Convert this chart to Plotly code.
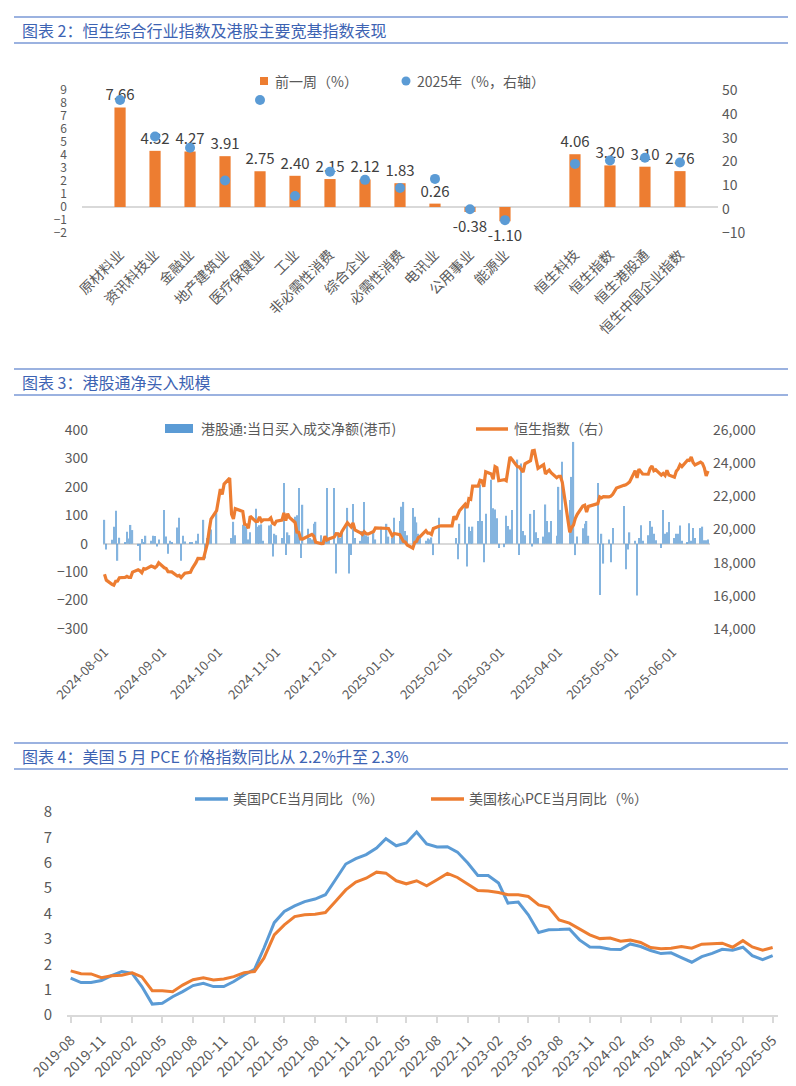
import plotly.graph_objects as go

W, H = 796, 1086

# ---- chart 1: sector / index performance ----
sectors = ["原材料业", "资讯科技业", "金融业", "地产建筑业", "医疗保健业", "工业",
           "非必需性消费", "综合企业", "必需性消费", "电讯业", "公用事业", "能源业",
           " ", "恒生科技", "恒生指数", "恒生港股通", "恒生中国企业指数"]
week_chg = [7.66, 4.32, 4.27, 3.91, 2.75, 2.40, 2.15, 2.12, 1.83, 0.26, -0.38, -1.10,
            None, 4.06, 3.20, 3.10, 2.76]
ytd_chg = [45.8, 30.5, 25.8, 12.0, 45.8, 5.5, 15.7, 12.3, 8.9, 12.7, 0.0, -4.6,
           None, 19.0, 20.4, 21.6, 19.6]

# ---- chart 2: southbound net buying vs HSI ----
trade_dates = (
    ["2024-08-%02d" % d for d in (1, 2, 5, 6, 7, 8, 9, 12, 13, 14, 15, 16, 19, 20, 21, 22, 23, 26, 27, 28, 29, 30)]
    + ["2024-09-%02d" % d for d in (2, 3, 4, 5, 6, 9, 10, 11, 12, 13, 16, 17, 19, 20, 23, 24, 25, 26, 27, 30)]
    + ["2024-10-%02d" % d for d in (2, 3, 4, 7, 8, 9, 10, 14, 15, 16, 17, 18, 21, 22, 23, 24, 25, 28, 29, 30, 31)]
    + ["2024-11-%02d" % d for d in (1, 4, 5, 6, 7, 8, 11, 12, 13, 14, 15, 18, 19, 20, 21, 22, 25, 26, 27, 28, 29)]
    + ["2024-12-%02d" % d for d in (2, 3, 4, 5, 6, 9, 10, 11, 12, 13, 16, 17, 18, 19, 20, 23, 24, 27, 30, 31)]
    + ["2025-01-%02d" % d for d in (2, 3, 6, 7, 8, 9, 10, 13, 14, 15, 16, 17, 20, 21, 22, 23, 24, 27, 28)]
    + ["2025-02-%02d" % d for d in (3, 4, 5, 6, 7, 10, 11, 12, 13, 14, 17, 18, 19, 20, 21, 24, 25, 26, 27, 28)]
    + ["2025-03-%02d" % d for d in (3, 4, 5, 6, 7, 10, 11, 12, 13, 14, 17, 18, 19, 20, 21, 24, 25, 26, 27, 28, 31)]
    + ["2025-04-%02d" % d for d in (1, 2, 3, 7, 8, 9, 10, 11, 14, 15, 16, 17, 22, 23, 24, 25, 28, 29, 30)]
    + ["2025-05-%02d" % d for d in (2, 6, 7, 8, 9, 12, 13, 14, 15, 16, 19, 20, 21, 22, 23, 26, 27, 28, 29, 30)]
    + ["2025-06-%02d" % d for d in (2, 3, 4, 5, 6, 9, 10, 11, 12, 13, 16, 17, 18, 19, 20)]
)
hsi_close = [
    17304, 16945, 16698, 16647, 16877, 16891, 17090, 17112, 17174, 17113, 17110, 17430, 17569, 17511, 17391, 17641, 17612, 17798, 17754, 17692, 17786, 17989,
    17691, 17651, 17457, 17444, 17444, 17196, 17234, 17108, 17240, 17369, 17422, 17660, 18013, 18258, 18247, 18779, 19129, 19924, 20632, 21134,
    22444, 22114, 22737, 23100, 20927, 20637, 21252, 21093, 20319, 20287, 20080, 20804, 20479, 20499, 20761, 20489, 20590, 20599, 20701, 20381, 20317,
    20506, 20568, 21006, 20538, 20953, 20728, 20426, 19846, 19823, 19435, 19426, 19577, 19663, 19705, 19601, 19230, 19151, 19159, 19603, 19367, 19424,
    19550, 19746, 19742, 19560, 19866, 20415, 20311, 20155, 20398, 19971, 19796, 19700, 19865, 19753, 19720, 19883, 20098, 20090, 20041, 20060,
    19623, 19760, 19688, 19448, 19280, 19241, 19064, 18874, 19219, 19287, 19522, 19584, 19926, 19779, 19779, 19700, 20066, 20198, 20225,
    20217, 20790, 20598, 20892, 21133, 21522, 21295, 21858, 21815, 22620, 22617, 22977, 22944, 22576, 23478, 23342, 23035, 23788, 23718, 22941,
    23006, 22941, 23594, 24370, 24231, 23783, 23782, 23600, 23462, 23959, 24146, 24740, 24771, 24219, 23690, 23906, 23344, 23483, 23579, 23426, 23120,
    23206, 23202, 22849, 19828, 20128, 20264, 20682, 20915, 21418, 21467, 21057, 21396, 21562, 21971, 21909, 21980, 21972, 22008, 22119,
    22504, 22663, 22692, 22775, 22868, 23549, 23108, 23641, 23453, 23345, 23333, 23681, 23828, 23544, 23601, 23282, 23382, 23258, 23573, 23290,
    23158, 23512, 23655, 23907, 23793, 24181, 24163, 24367, 24035, 23893, 24061, 23980, 23711, 23238, 23530,
]
sb_net = [
    84, -20, 14, 60, 116, -60, 21, 5, 42, 18, 66, 48, -8, -60, 17, 6, 28, 10, 28, 27, -10, 15,
    119, 25, -35, 10, 5, 57, 91, -60, 28, 8, 5, 5, 10, 35, 84, -52, 20, 30, 50, 109,
    0, 0, 0, 0, 20, 77, 30, 67, 63, 60, 15, 40, 123, 60, 65, 68, 10, 64, 68, -45, 35,
    30, 20, 214, -40, 40, 30, 95, 100, 196, -50, 137, 53, 20, 15, 70, 77, 30, 10, 25, 196, 20,
    196, -105, 30, 20, 40, 126, -105, -40, 140, 20, 10, 45, 147, 30, 25, 40, 15, 60, 70, 25,
    20, 91, 80, 130, 147, 45, 30, 126, 95, 75, 35, 20, 10, 18, 15, 22, -40, 91, 0,
    0, 0, 20, -55, 70, 137, -80, 60, 45, 60, 80, 207, 80, -65, 105, 225, 125, 120, 90, -15,
    -12, 98, 62, 50, 119, 296, -40, 282, 45, 30, 105, -10, 119, 40, 20, 25, 138, 80, 40, 80, 28,
    200, 119, 288, 154, 235, 358, -40, 25, 54, 70, 80, 28, 214, -180, 35, -70, 15, -65, 55,
    0, 133, -90, -20, 40, 10, -182, 20, 65, 10, 30, 80, 60, 35, 12, -15, 119, 35, 40, 76,
    20, 35, 35, 64, 10, 5, 72, 10, 55, 20, 55, 60, 12, 12, 15,
]

# ---- chart 3: US PCE ----
pce_months = (["2019-%02d-01" % m for m in range(8, 13)]
              + ["%d-%02d-01" % (y, m) for y in range(2020, 2025) for m in range(1, 13)]
              + ["2025-%02d-01" % m for m in range(1, 6)])
pce_yoy = [1.45, 1.28, 1.28, 1.36, 1.55,
           1.71, 1.64, 1.12, 0.43, 0.46, 0.72, 0.92, 1.16, 1.25, 1.12, 1.12, 1.32,
           1.58, 1.80, 2.63, 3.64, 4.08, 4.30, 4.47, 4.57, 4.74, 5.33, 5.95, 6.16,
           6.32, 6.58, 6.95, 6.67, 6.78, 7.21, 6.74, 6.62, 6.63, 6.42, 5.99, 5.50,
           5.50, 5.20, 4.41, 4.45, 3.95, 3.25, 3.36, 3.37, 3.39, 2.96, 2.68, 2.67,
           2.59, 2.58, 2.80, 2.70, 2.54, 2.42, 2.45, 2.26, 2.08, 2.30, 2.43, 2.59,
           2.55, 2.67, 2.34, 2.18, 2.34]
core_pce_yoy = [1.74, 1.63, 1.62, 1.47, 1.55,
                1.57, 1.66, 1.50, 0.96, 0.96, 0.92, 1.18, 1.39, 1.47, 1.38, 1.42, 1.51,
                1.67, 1.71, 2.24, 3.16, 3.55, 3.88, 3.95, 3.97, 4.04, 4.47, 4.93, 5.24,
                5.39, 5.63, 5.59, 5.29, 5.17, 5.29, 5.09, 5.33, 5.58, 5.42, 5.17, 4.91,
                4.89, 4.83, 4.74, 4.74, 4.67, 4.34, 4.24, 3.75, 3.62, 3.39, 3.16, 3.01,
                3.03, 2.91, 2.95, 2.86, 2.66, 2.61, 2.63, 2.70, 2.63, 2.79, 2.80, 2.83,
                2.67, 2.93, 2.68, 2.55, 2.66]

ORANGE = "#ED7D31"
BLUE = "#5B9BD5"
GREY = "#595959"
TITLE_BLUE = "#3D63B3"
RULE_BLUE = "#7A98D6"
FONT = "Noto Sans CJK SC"


def px(x):
    return x / W


def py(y):
    return 1 - y / H


fig = go.Figure()

# chart 1
fig.add_trace(go.Bar(
    x=sectors, y=week_chg, xaxis="x", yaxis="y", marker_color=ORANGE,
    texttemplate="%{y:.2f}", textposition="outside", cliponaxis=False,
    constraintext="none",
    outsidetextfont=dict(size=15, color="#404040", family=FONT)))
fig.add_trace(go.Scatter(
    x=sectors, y=ytd_chg, xaxis="x", yaxis="y2", mode="markers",
    marker=dict(color=BLUE, size=10), cliponaxis=False))

# chart 2
fig.add_trace(go.Bar(
    x=trade_dates, y=sb_net, xaxis="x2", yaxis="y3",
    marker=dict(color=BLUE, line_width=0), width=0.7 * 86400000, opacity=0.75))
fig.add_trace(go.Scatter(
    x=trade_dates, y=hsi_close, xaxis="x2", yaxis="y4", mode="lines",
    line=dict(color=ORANGE, width=3.2)))

# chart 3
fig.add_trace(go.Scatter(
    x=pce_months, y=pce_yoy, xaxis="x3", yaxis="y5", mode="lines",
    line=dict(color=BLUE, width=3)))
fig.add_trace(go.Scatter(
    x=pce_months, y=core_pce_yoy, xaxis="x3", yaxis="y5", mode="lines",
    line=dict(color=ORANGE, width=3)))

tick_font = dict(size=14, color=GREY, family=FONT)
plain = dict(showgrid=False, showline=False, ticks="", zeroline=False, automargin=False)

fig.update_layout(
    template="none",
    width=W, height=H, margin=dict(l=0, r=0, t=0, b=0, pad=0), autosize=False,
    paper_bgcolor="white", plot_bgcolor="white", showlegend=False,
    font=dict(family=FONT, color=GREY), bargap=0.68,
    xaxis=dict(plain, domain=[px(74), px(710)], anchor="y", type="category",
               tickangle=-45, tickfont=dict(size=14, color=GREY, family=FONT),
               ticklabelstandoff=10),
    yaxis=dict(plain, domain=[py(225), py(82)], anchor="x", range=[-2, 9], dtick=1,
               zeroline=True, zerolinecolor="#D9D9D9", zerolinewidth=1.5,
               tickfont=dict(size=12, color=GREY, family=FONT), ticklabelstandoff=14),
    yaxis2=dict(plain, overlaying="y", side="right", anchor="x", range=[-10, 50],
                dtick=10, tickfont=tick_font, ticklabelstandoff=3),
    xaxis2=dict(plain, domain=[px(95), px(702)], anchor="y3", type="date",
                range=["2024-07-31 05:00", "2025-06-21 01:00"],
                tick0="2024-08-01", dtick="M1", tickformat="%Y-%m-%d",
                tickangle=-45, tickfont=dict(size=13, color=GREY, family=FONT),
                ticklabelstandoff=12),
    yaxis3=dict(plain, domain=[py(621), py(422)], anchor="x2", range=[-300, 400],
                dtick=100, zeroline=True, zerolinecolor="#D9D9D9", zerolinewidth=1.5,
                tickfont=tick_font, ticklabelstandoff=14),
    yaxis4=dict(plain, overlaying="y3", side="right", anchor="x2",
                range=[14000, 26000], dtick=2000, tickformat=",d",
                tickfont=tick_font, ticklabelstandoff=2),
    xaxis3=dict(showgrid=False, zeroline=False, automargin=False,
                domain=[px(59), px(770)], anchor="y5",
                type="date", range=["2019-07-21", "2025-05-17"],
                tick0="2019-08-01", dtick="M3", tickformat="%Y-%m", tickangle=-45,
                showline=True, linecolor="#D9D9D9", linewidth=1.5,
                ticks="outside", tickcolor="#D9D9D9", ticklen=6, tickwidth=1.5,
                tickfont=dict(size=14, color=GREY, family=FONT), ticklabelstandoff=4),
    yaxis5=dict(plain, domain=[py(1007), py(804)], anchor="x3", range=[0, 8], dtick=1,
                tickfont=dict(size=15, color=GREY, family=FONT), ticklabelstandoff=14),
)

shapes = []
annotations = []


def rule(y):
    shapes.append(dict(type="line", xref="paper", yref="paper",
                       x0=px(6), x1=px(787), y0=py(y), y1=py(y),
                       line=dict(color=RULE_BLUE, width=1.5)))


def label(x, y, text, size=14, color=GREY):
    annotations.append(dict(xref="paper", yref="paper", x=px(x), y=py(y), text=text,
                            showarrow=False, xanchor="left", yanchor="middle",
                            font=dict(size=size, color=color, family=FONT)))


# section headers
for top, bottom, title in [(9, 35, "图表 2：恒生综合行业指数及港股主要宽基指数表现"),
                           (361, 387, "图表 3：港股通净买入规模"),
                           (735, 761, "图表 4：美国 5 月 PCE 价格指数同比从 2.2%升至 2.3%")]:
    rule(top)
    rule(bottom)
    label(12, (top + bottom) / 2, title, size=16, color=TITLE_BLUE)

# chart 1 legend
shapes.append(dict(type="rect", xref="paper", yref="paper", x0=px(252), x1=px(260),
                   y0=py(77), y1=py(69), fillcolor=ORANGE, line_width=0))
label(265, 73, "前一周（%）")
shapes.append(dict(type="circle", xref="paper", yref="paper", x0=px(393.5), x1=px(402.5),
                   y0=py(77.5), y1=py(68.5), fillcolor=BLUE, line_width=0))
label(407, 73, "2025年（%，右轴）")

# chart 2 legend
shapes.append(dict(type="rect", xref="paper", yref="paper", x0=px(157), x1=px(185),
                   y0=py(425), y1=py(416), fillcolor=BLUE, line_width=0))
label(191, 420, "港股通:当日买入成交净额(港币)")
shapes.append(dict(type="line", xref="paper", yref="paper", x0=px(468), x1=px(500),
                   y0=py(421), y1=py(421), line=dict(color=ORANGE, width=3.5)))
label(504, 420, "恒生指数（右）")

# chart 3 legend
shapes.append(dict(type="line", xref="paper", yref="paper", x0=px(187), x1=px(220),
                   y0=py(791), y1=py(791), line=dict(color=BLUE, width=3.5)))
label(223, 790, "美国PCE当月同比（%）")
shapes.append(dict(type="line", xref="paper", yref="paper", x0=px(423), x1=px(456),
                   y0=py(791), y1=py(791), line=dict(color=ORANGE, width=3.5)))
label(459, 790, "美国核心PCE当月同比（%）")

fig.update_layout(shapes=shapes, annotations=annotations)

fig.write_html("out.html")
